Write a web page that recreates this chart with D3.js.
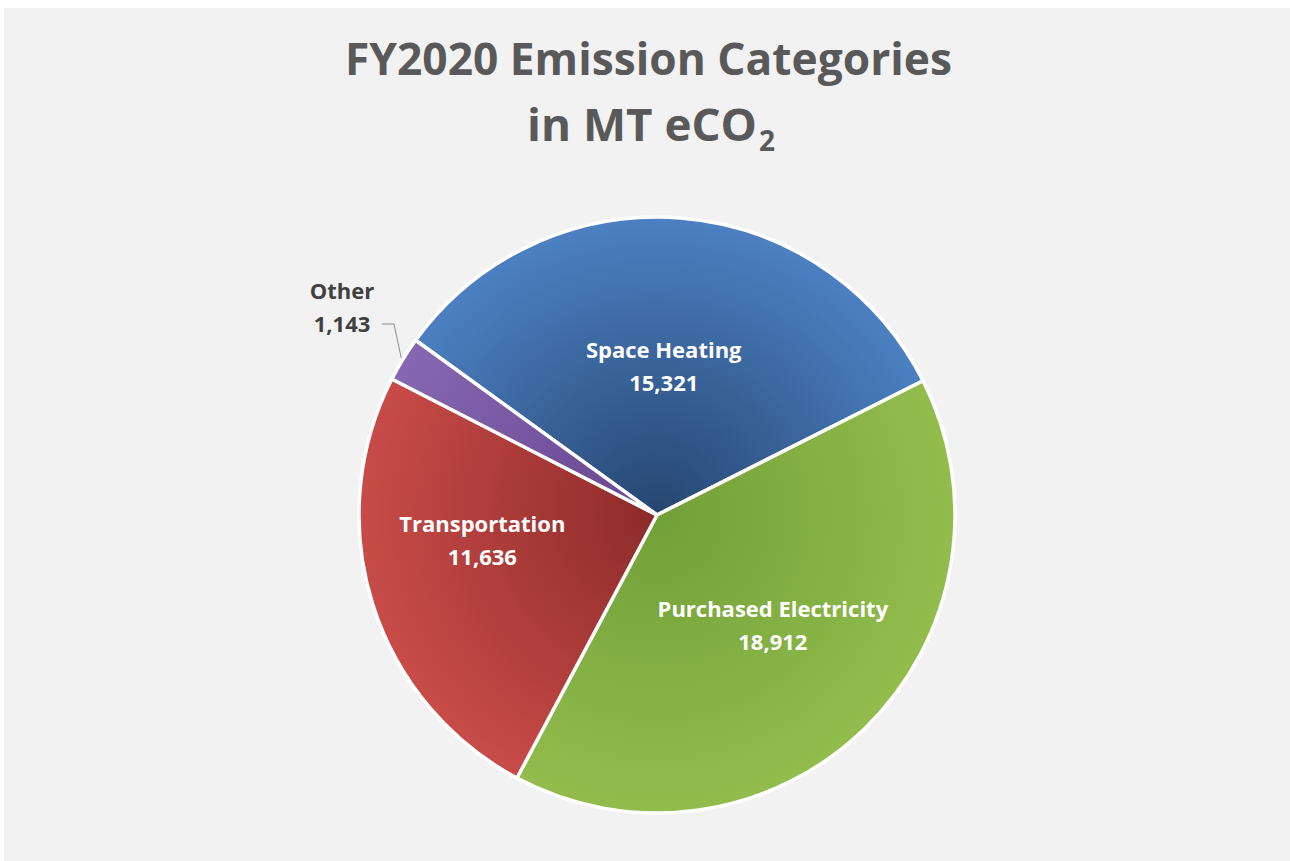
<!DOCTYPE html>
<html>
<head>
<meta charset="utf-8">
<script src="https://cdn.jsdelivr.net/npm/d3@7"></script>
<style>
  html, body { margin: 0; padding: 0; background: #fff; }
  svg { display: block; }
</style>
</head>
<body>
<div id="chart"></div>
<script>
// Chart data
const categories = ['Space Heating', 'Purchased Electricity', 'Transportation', 'Other'];
const values = [15321, 18912, 11636, 1143];
const titleLines = ['FY2020 Emission Categories', 'in MT eCO'];

// Colours per slice: [inner (near centre), outer edge]
const sliceColors = {
  'Space Heating': ['#264670', '#4c80c2'],
  'Purchased Electricity': ['#72a038', '#92bd4d'],
  'Transportation': ['#8c2b2a', '#c84b48'],
  'Other': ['#66468f', '#8667b1']
};

const width = 1290, height = 861;
const cx = 657, cy = 515, radius = 298;

const svg = d3.select('#chart')
  .append('svg')
  .attr('width', width)
  .attr('height', height);

// grey panel
svg.append('rect')
  .attr('x', 4).attr('y', 8)
  .attr('width', width - 4).attr('height', height - 8)
  .attr('fill', '#f2f2f2');

// title
const titleFont = "'Open Sans', 'Noto Sans', sans-serif";
svg.append('text')
  .attr('x', 345).attr('y', 75)
  .attr('textLength', 607)
  .attr('lengthAdjust', 'spacingAndGlyphs')
  .style('font-family', titleFont)
  .style('font-weight', 700)
  .style('font-size', '45px')
  .style('fill', '#595959')
  .text(titleLines[0]);

svg.append('text')
  .attr('x', 527).attr('y', 141)
  .attr('textLength', 230)
  .attr('lengthAdjust', 'spacingAndGlyphs')
  .style('font-family', titleFont)
  .style('font-weight', 700)
  .style('font-size', '45px')
  .style('fill', '#595959')
  .text(titleLines[1]);

svg.append('text')
  .attr('x', 759).attr('y', 151)
  .style('font-family', titleFont)
  .style('font-weight', 700)
  .style('font-size', '28px')
  .style('fill', '#595959')
  .text('2');

const g = svg.append('g').attr('transform', `translate(${cx},${cy})`);

// gradients, dark at the centre, lighter at the rim (coords are in the group's space)
const defs = svg.append('defs');
categories.forEach((name, i) => {
  const grad = defs.append('radialGradient')
    .attr('id', 'grad-' + i)
    .attr('gradientUnits', 'userSpaceOnUse')
    .attr('cx', 0).attr('cy', 0).attr('r', radius);
  grad.append('stop').attr('offset', '0%').attr('stop-color', sliceColors[name][0]);
  grad.append('stop').attr('offset', '100%').attr('stop-color', sliceColors[name][1]);
});

// Excel-style first slice angle, the rest goes clockwise
const startDeg = 305.9;
const pie = d3.pie()
  .sort(null)
  .value(d => d.value)
  .startAngle(startDeg * Math.PI / 180)
  .endAngle((startDeg + 360) * Math.PI / 180);

const data = categories.map((c, i) => ({ name: c, value: values[i], index: i }));
const arcs = pie(data);

const arc = d3.arc().innerRadius(0).outerRadius(radius);

g.selectAll('path.slice')
  .data(arcs)
  .enter().append('path')
  .attr('class', 'slice')
  .attr('d', arc)
  .attr('fill', d => `url(#grad-${d.data.index})`)
  .attr('stroke', '#ffffff')
  .attr('stroke-width', 3.5)
  .attr('stroke-linejoin', 'round');

// labels inside slices
const labelArc = d3.arc().innerRadius(160).outerRadius(160);
const labelNudge = {
  'Space Heating': [-6, 11],
  'Purchased Electricity': [4, -3],
  'Transportation': [-22, -22]
};
const fmt = d3.format(',');
const labelFont = "'Open Sans', 'Noto Sans', sans-serif";

arcs.filter(d => labelNudge[d.data.name]).forEach(d => {
  const [x, y] = labelArc.centroid(d);
  const [nx, ny] = labelNudge[d.data.name];
  const t = g.append('text')
    .attr('text-anchor', 'middle')
    .style('font-family', labelFont)
    .style('font-weight', 700)
    .style('font-size', '22px')
    .style('fill', '#ffffff');
  t.append('tspan').attr('x', x + nx).attr('y', y + ny - 9).text(d.data.name);
  t.append('tspan').attr('x', x + nx).attr('y', y + ny + 24).text(fmt(d.data.value));
});

// small slice label outside with a leader line
const other = arcs.find(d => d.data.name === 'Other');
const edgeArc = d3.arc().innerRadius(radius + 2).outerRadius(radius + 2);
const [ex, ey] = edgeArc.centroid(other);
const elbow = [394 - cx, 324 - cy];
g.append('polyline')
  .attr('points', [[ex, ey], elbow, [elbow[0] - 12, elbow[1]]].map(p => p.join(',')).join(' '))
  .attr('fill', 'none')
  .attr('stroke', '#8c8c8c')
  .attr('stroke-width', 1);

const ot = g.append('text')
  .attr('text-anchor', 'middle')
  .style('font-family', labelFont)
  .style('font-weight', 700)
  .style('font-size', '22px')
  .style('fill', '#404040');
ot.append('tspan').attr('x', 342 - cx).attr('y', 299 - cy).text(other.data.name);
ot.append('tspan').attr('x', 342 - cx).attr('y', 332 - cy).text(fmt(other.data.value));
</script>
</body>
</html>
